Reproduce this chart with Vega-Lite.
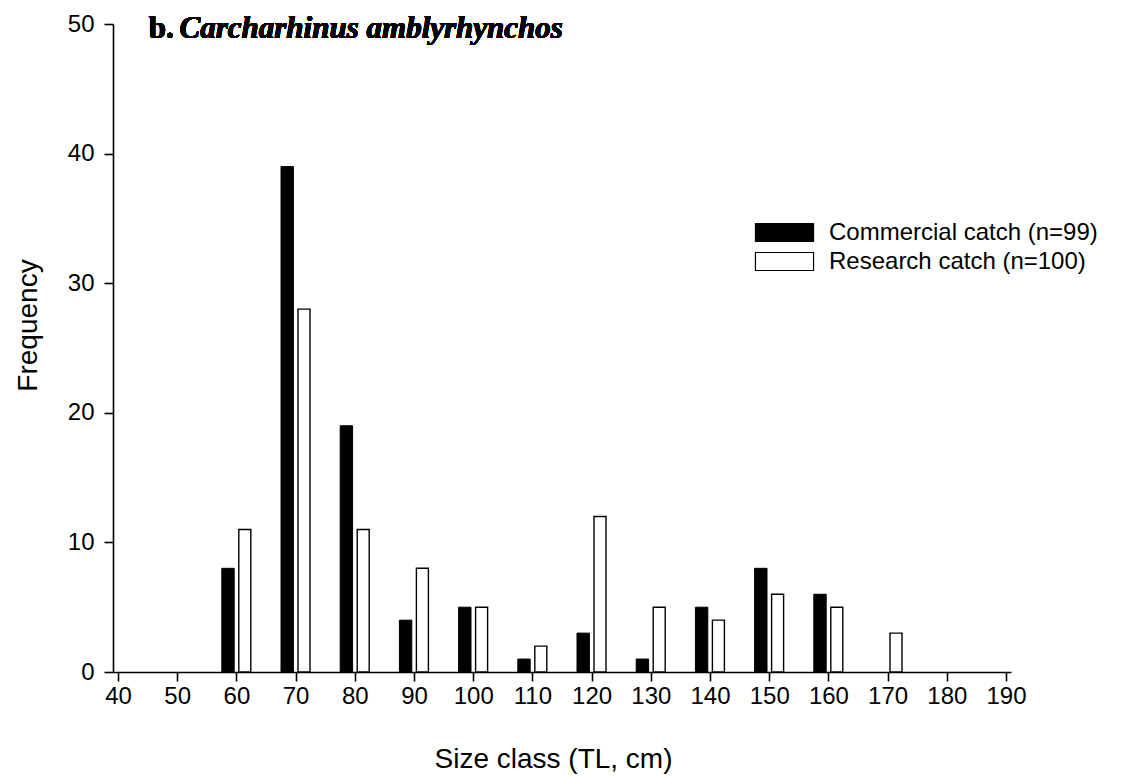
{
  "$schema": "https://vega.github.io/schema/vega-lite/v6.json",
  "width": 898,
  "height": 648,
  "autosize": {"type": "none"},
  "padding": {"left": 113, "top": 24, "right": 110, "bottom": 106},
  "background": "white",
  "config": {
    "view": {"stroke": null},
    "font": "Liberation Sans",
    "axis": {
      "grid": false,
      "domainColor": "black",
      "domainWidth": 1.6,
      "tickColor": "black",
      "tickWidth": 1.6,
      "tickSize": 9,
      "labelColor": "black",
      "labelFont": "Liberation Sans",
      "labelFontSize": 24,
      "titleFont": "Liberation Sans",
      "titleFontSize": 28,
      "titleFontWeight": "normal",
      "titleColor": "black"
    }
  },
  "data": {
    "values": [
      {"size": 60, "series": "Commercial catch (n=99)", "freq": 8},
      {"size": 70, "series": "Commercial catch (n=99)", "freq": 39},
      {"size": 80, "series": "Commercial catch (n=99)", "freq": 19},
      {"size": 90, "series": "Commercial catch (n=99)", "freq": 4},
      {"size": 100, "series": "Commercial catch (n=99)", "freq": 5},
      {"size": 110, "series": "Commercial catch (n=99)", "freq": 1},
      {"size": 120, "series": "Commercial catch (n=99)", "freq": 3},
      {"size": 130, "series": "Commercial catch (n=99)", "freq": 1},
      {"size": 140, "series": "Commercial catch (n=99)", "freq": 5},
      {"size": 150, "series": "Commercial catch (n=99)", "freq": 8},
      {"size": 160, "series": "Commercial catch (n=99)", "freq": 6},
      {"size": 60, "series": "Research catch (n=100)", "freq": 11},
      {"size": 70, "series": "Research catch (n=100)", "freq": 28},
      {"size": 80, "series": "Research catch (n=100)", "freq": 11},
      {"size": 90, "series": "Research catch (n=100)", "freq": 8},
      {"size": 100, "series": "Research catch (n=100)", "freq": 5},
      {"size": 110, "series": "Research catch (n=100)", "freq": 2},
      {"size": 120, "series": "Research catch (n=100)", "freq": 12},
      {"size": 130, "series": "Research catch (n=100)", "freq": 5},
      {"size": 140, "series": "Research catch (n=100)", "freq": 4},
      {"size": 150, "series": "Research catch (n=100)", "freq": 6},
      {"size": 160, "series": "Research catch (n=100)", "freq": 5},
      {"size": 170, "series": "Research catch (n=100)", "freq": 3}
    ]
  },
  "encoding": {
    "x": {
      "field": "size",
      "type": "quantitative",
      "scale": {"domain": [40, 190], "nice": false, "zero": false},
      "axis": {
        "values": [40, 50, 60, 70, 80, 90, 100, 110, 120, 130, 140, 150, 160, 170, 180, 190],
        "title": "Size class (TL, cm)",
        "labelPadding": 3,
        "titleX": 440,
        "titleY": 95,
        "titleBaseline": "alphabetic"
      }
    },
    "y": {
      "field": "freq",
      "type": "quantitative",
      "scale": {"domain": [0, 50], "nice": false},
      "axis": {
        "values": [0, 10, 20, 30, 40, 50],
        "title": "Frequency",
        "labelPadding": 10,
        "titleX": -85,
        "titleY": 301,
        "titleAngle": -90,
        "titleBaseline": "middle",
        "titleAlign": "center"
      }
    }
  },
  "layer": [
    {
      "transform": [{"filter": "datum.series === 'Commercial catch (n=99)'"}],
      "mark": {"type": "bar", "width": 12.4, "xOffset": -8.4, "stroke": "black", "strokeWidth": 1},
      "encoding": {
        "fill": {
          "field": "series",
          "type": "nominal",
          "scale": {"domain": ["Commercial catch (n=99)", "Research catch (n=100)"], "range": ["black", "white"]},
          "legend": {
            "title": null,
            "orient": "none",
            "legendX": 659,
            "legendY": 196,
            "symbolType": "M-2.5,-0.775H2.5V0.775H-2.5Z",
            "symbolSize": 540,
            "symbolStrokeColor": "black",
            "symbolStrokeWidth": 1.2,
            "labelFont": "Liberation Sans",
            "labelFontSize": 24,
            "labelColor": "black",
            "labelOffset": 32,
            "labelLimit": 500,
            "rowPadding": 4,
            "symbolOpacity": 1
          }
        }
      }
    },
    {
      "transform": [{"filter": "datum.series === 'Research catch (n=100)'"}],
      "mark": {"type": "bar", "width": 12, "xOffset": 8.4, "stroke": "black", "strokeWidth": 1.4},
      "encoding": {
        "fill": {"field": "series", "type": "nominal"}
      }
    },
    {
      "mark": {"type": "text", "font": "Liberation Serif", "fontSize": 31, "fontWeight": "bold", "align": "left", "baseline": "alphabetic", "fill": "black"},
      "encoding": {
        "x": {"datum": 45.2},
        "y": {"datum": 48.9},
        "text": {"value": "b."}
      }
    },
    {
      "mark": {"type": "text", "font": "Liberation Serif", "fontSize": 31, "fontWeight": "bold", "fontStyle": "italic", "align": "left", "baseline": "alphabetic", "fill": "black"},
      "encoding": {
        "x": {"datum": 50.4},
        "y": {"datum": 48.9},
        "text": {"value": "Carcharhinus amblyrhynchos"}
      }
    }
  ]
}
